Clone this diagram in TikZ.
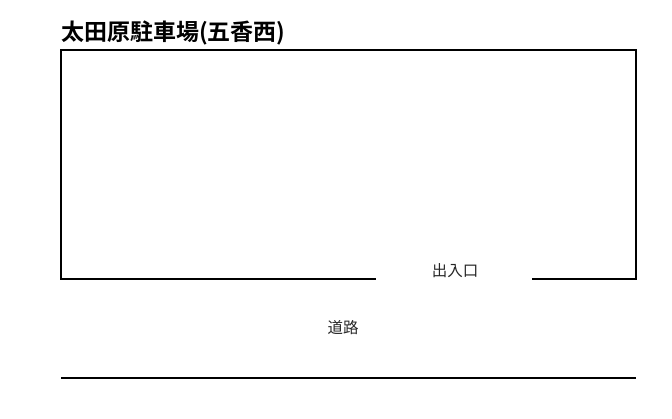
\documentclass[tikz,border=0pt]{standalone}
\usepackage{fontspec}
\newfontfamily\cjk{Noto Sans CJK JP}
\newfontfamily\cjkb{Noto Sans CJK JP Bold}
\begin{document}
\begin{tikzpicture}[x=1pt,y=-1pt,
  wall/.style={line width=2pt,line cap=rect},
  lbl/.style={font=\cjk\fontsize{15.5}{18}\selectfont,inner sep=0pt,text=black!85},
  ttl/.style={font=\cjkb\fontsize{23}{26}\selectfont,inner sep=0pt,anchor=west}]
\useasboundingbox (0,0) rectangle (672,418);
\coordinate (tl) at (61,50);
\coordinate (tr) at (636,50);
\coordinate (bl) at (61,279);
\coordinate (br) at (636,279);
\coordinate (gapL) at (375,279);
\coordinate (gapR) at (533,279);
\coordinate (roadL) at (61,378);
\coordinate (roadR) at (636,378);
\node[ttl] (title) at (61,33) {太田原駐車場(五香西)};
\draw[wall] (gapL) -- (bl) -- (tl) -- (tr) -- (br) -- (gapR);
\node[lbl] (gate) at (455,271) {出入口};
\node[lbl] (road) at (343,328) {道路};
\draw[wall,line cap=butt] (roadL) -- (roadR);
\end{tikzpicture}
\end{document}
